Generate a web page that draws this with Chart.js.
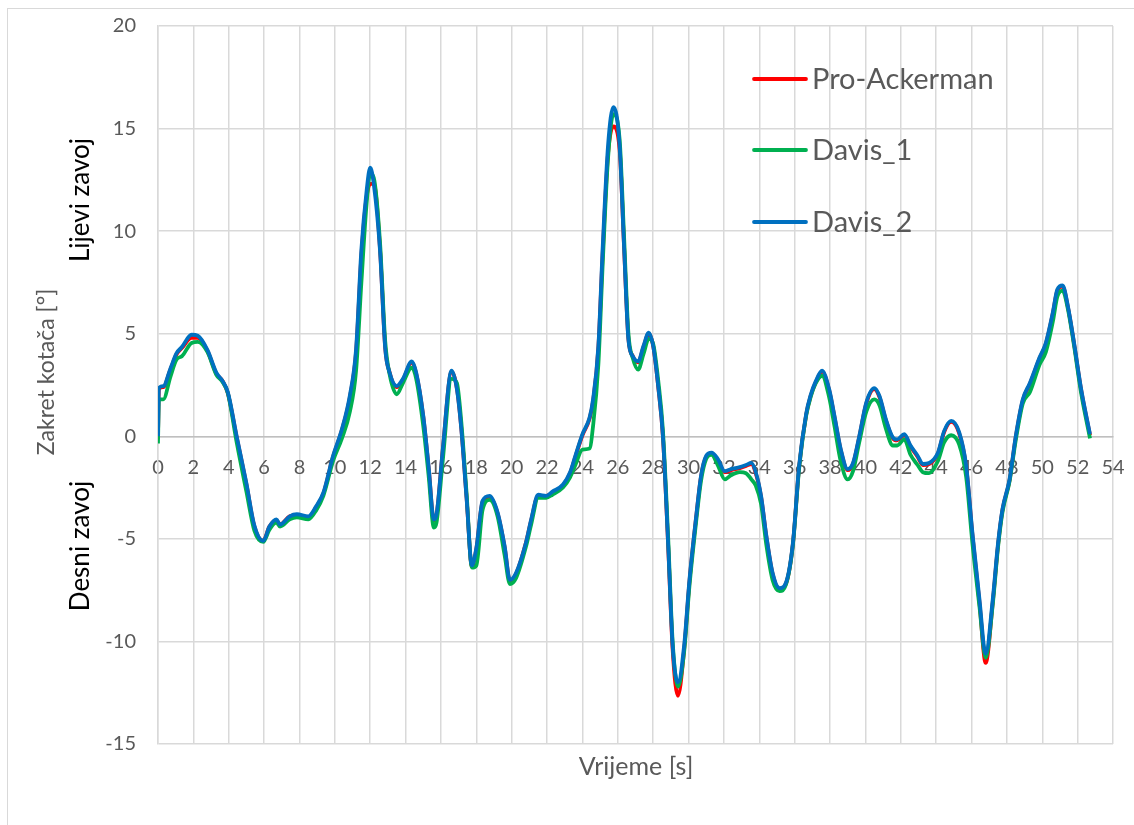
<!DOCTYPE html>
<html>
<head>
<meta charset="utf-8">
<script src="https://cdn.jsdelivr.net/npm/chart.js@4.4.0/dist/chart.umd.min.js"></script>
<style>
  html, body { margin: 0; padding: 0; background: #fff; }
  #wrap { width: 1134px; height: 825px; position: relative; }
</style>
</head>
<body>
<div id="wrap"><canvas id="chart" width="1134" height="825"></canvas></div>
<script>
// time [s]
const vrijeme = [0, 0.05, 0.3, 0.7, 1.05, 1.35, 1.9, 2.25, 2.8, 3.3, 3.65, 3.95, 4.45, 5.0, 5.45, 5.95, 6.3, 6.7, 6.9, 7.45, 7.85, 8.5, 8.95, 9.35, 9.9, 10.4, 10.85, 11.2, 11.5, 11.8, 12.0, 12.2, 12.55, 12.85, 13.1, 13.5, 13.85, 14.35, 14.6, 15.0, 15.3, 15.6, 15.75, 16.1, 16.6, 16.9, 17.15, 17.45, 17.75, 18.0, 18.35, 18.75, 19.2, 19.6, 19.9, 20.25, 20.8, 21.1, 21.5, 21.95, 22.3, 22.9, 23.3, 23.6, 24.0, 24.4, 24.6, 24.9, 25.15, 25.45, 25.75, 26.1, 26.35, 26.6, 26.85, 27.15, 27.45, 27.75, 28.0, 28.3, 28.55, 28.85, 29.1, 29.4, 29.75, 30.05, 30.45, 30.7, 31.0, 31.3, 31.65, 32.05, 32.4, 32.9, 33.25, 33.55, 33.8, 34.1, 34.4, 34.75, 35.15, 35.5, 35.9, 36.25, 36.65, 36.9, 37.2, 37.55, 37.95, 38.25, 38.6, 39.0, 39.3, 39.65, 40.05, 40.5, 40.8, 41.15, 41.55, 41.8, 42.2, 42.55, 42.95, 43.25, 43.6, 44.1, 44.45, 44.85, 45.3, 45.7, 46.05, 46.45, 46.8, 47.2, 47.5, 47.75, 48.15, 48.5, 48.9, 49.3, 49.85, 50.2, 50.6, 50.85, 51.15, 51.45, 51.8, 52.2, 52.7];

const proAckerman = [0, 2.3, 2.4, 3.25, 4.0, 4.3, 4.8, 4.8, 4.15, 3.05, 2.7, 2.1, -0.05, -2.35, -4.4, -5.1, -4.4, -4.1, -4.3, -3.9, -3.85, -3.95, -3.45, -2.8, -1.0, 0.3, 1.9, 4.1, 8.8, 11.7, 12.3, 12.3, 9.2, 4.3, 3.1, 2.4, 2.75, 3.6, 3.05, 0.95, -1.5, -4.1, -3.85, -0.7, 3.15, 2.35, 0.4, -3.0, -6.35, -5.5, -3.2, -2.95, -3.75, -5.4, -7.05, -6.7, -5.2, -4.1, -2.9, -2.9, -2.75, -2.4, -1.8, -1.0, 0.05, 0.85, 1.7, 4.3, 9.0, 13.8, 15.1, 14.0, 9.3, 4.75, 3.9, 3.6, 4.35, 5.0, 4.4, 2.3, 0, -5.4, -10.4, -12.65, -10.4, -7.1, -3.8, -2.0, -1.0, -0.85, -1.15, -1.75, -1.65, -1.55, -1.45, -1.35, -1.8, -2.95, -4.9, -6.7, -7.45, -7.2, -5.25, -1.5, 1.05, 1.95, 2.65, 3.15, 2.25, 0.95, -0.65, -1.65, -1.35, -0.05, 1.6, 2.3, 1.9, 0.8, -0.1, -0.2, 0.05, -0.5, -1.0, -1.4, -1.35, -0.85, 0.2, 0.7, 0.15, -1.5, -4.8, -8.1, -11.05, -8.1, -5.3, -3.6, -2.15, -0.05, 1.75, 2.55, 3.8, 4.5, 6.0, 7.1, 7.3, 6.3, 4.5, 2.25, 0.05];

const davis1 = [-0.35, 1.8, 1.8, 2.9, 3.75, 3.9, 4.55, 4.6, 4.1, 3.0, 2.65, 2.1, -0.3, -2.7, -4.6, -5.15, -4.55, -4.2, -4.4, -4.05, -3.95, -4.05, -3.6, -2.9, -1.2, -0.1, 1.2, 3.2, 7.5, 11.4, 12.8, 12.6, 9.5, 4.6, 3.0, 2.05, 2.6, 3.35, 2.8, 0.5, -1.9, -4.45, -4.2, -1.2, 2.8, 2.6, 0.7, -2.8, -6.4, -6.3, -3.6, -3.1, -3.9, -5.8, -7.2, -6.9, -5.4, -4.3, -3.0, -3.0, -2.85, -2.5, -2.0, -1.4, -0.65, -0.6, 0.5, 3.5, 8.5, 13.6, 15.7, 14.5, 9.8, 5.0, 3.8, 3.25, 4.0, 4.75, 4.5, 2.6, 0.3, -5.0, -10.0, -12.2, -10.5, -7.3, -4.0, -2.2, -1.1, -0.9, -1.4, -2.1, -1.9, -1.75, -1.8, -2.1, -2.4, -3.3, -5.3, -7.0, -7.55, -7.25, -5.3, -1.6, 1.0, 1.9, 2.6, 2.95, 1.9, 0.5, -1.2, -2.1, -1.7, -0.3, 1.2, 1.8, 1.5, 0.4, -0.45, -0.45, -0.15, -0.9, -1.4, -1.75, -1.8, -1.2, -0.3, 0.05, -0.4, -2.0, -5.2, -8.3, -10.8, -8.2, -5.4, -3.7, -2.2, -0.2, 1.6, 2.15, 3.5, 4.1, 5.6, 6.8, 7.1, 6.2, 4.4, 2.1, -0.1];

const davis2 = [0, 2.35, 2.45, 3.3, 4.05, 4.35, 4.95, 4.9, 4.2, 3.1, 2.7, 2.15, 0, -2.3, -4.35, -5.1, -4.4, -4.05, -4.3, -3.9, -3.8, -3.9, -3.4, -2.75, -0.95, 0.35, 2.0, 4.25, 9.1, 12.0, 13.1, 12.3, 9.1, 4.25, 3.1, 2.45, 2.8, 3.65, 3.1, 1.0, -1.45, -4.05, -3.8, -0.65, 3.2, 2.3, 0.35, -3.05, -6.3, -5.45, -3.15, -2.9, -3.7, -5.35, -7.0, -6.65, -5.2, -4.05, -2.85, -2.9, -2.7, -2.35, -1.75, -0.95, 0.1, 0.9, 1.8, 4.4, 9.3, 14.2, 16.05, 14.2, 9.3, 4.7, 3.9, 3.65, 4.4, 5.05, 4.4, 2.3, 0, -5.35, -10.2, -12.0, -10.2, -7.0, -3.75, -1.95, -0.95, -0.8, -1.1, -1.7, -1.6, -1.5, -1.4, -1.3, -1.75, -2.9, -4.85, -6.65, -7.4, -7.15, -5.2, -1.45, 1.1, 2.0, 2.7, 3.2, 2.3, 1.0, -0.6, -1.6, -1.3, 0, 1.65, 2.35, 1.95, 0.85, -0.05, -0.15, 0.1, -0.45, -0.95, -1.35, -1.3, -0.8, 0.25, 0.75, 0.2, -1.45, -4.7, -7.95, -10.6, -7.95, -5.2, -3.55, -2.1, 0, 1.8, 2.6, 3.85, 4.55, 6.05, 7.15, 7.35, 6.35, 4.55, 2.3, 0.1];

const seriesNames = ['Pro-Ackerman', 'Davis_1', 'Davis_2'];
const seriesColors = ['#ff0000', '#00b050', '#0070c0'];
const yTicks = [-15, -10, -5, 0, 5, 10, 15, 20];

const txtGray = '#595959';
const fontFam = 'Lato, "Open Sans", sans-serif';

function pts(vals) {
    return vrijeme.map((t, i) => ({ x: t, y: vals[i] }));
}

// no extra room around the plot for labels, the layout padding decides it
function noPad(scale) {
    scale.paddingLeft = 0;
    scale.paddingRight = 0;
    scale.paddingTop = 0;
    scale.paddingBottom = 0;
}

// titles, side notes, legend
const extras = {
    id: 'extras',
    beforeDraw(chart) {
        const c = chart.ctx;
        c.save();
        c.fillStyle = '#fff';
        c.fillRect(0, 0, chart.width, chart.height);
        c.strokeStyle = '#d9d9d9';
        c.lineWidth = 1;
        c.strokeRect(7.5, 8.5, 1200, 900);
        c.restore();
    },
    afterDraw(chart) {
        const c = chart.ctx;
        c.save();
        c.fillStyle = txtGray;
        c.textAlign = 'center';
        c.textBaseline = 'middle';
        c.font = '25px ' + fontFam;
        c.fillText('Vrijeme [s]', 636, 767);

        c.save();
        c.translate(47, 372);
        c.rotate(-Math.PI / 2);
        c.font = '23px ' + fontFam;
        c.fillText('Zakret kotača [°]', 0, 0);
        c.restore();

        c.fillStyle = '#000';
        c.font = '26px ' + fontFam;
        c.save();
        c.translate(81, 200);
        c.rotate(-Math.PI / 2);
        c.fillText('Lijevi zavoj', 0, 0);
        c.restore();
        c.save();
        c.translate(81, 546);
        c.rotate(-Math.PI / 2);
        c.fillText('Desni zavoj', 0, 0);
        c.restore();

        // legend
        const ly = [79, 150, 222];
        c.font = '29px ' + fontFam;
        c.textAlign = 'left';
        seriesNames.forEach((name, i) => {
            c.strokeStyle = seriesColors[i];
            c.lineWidth = 3.8;
            c.lineCap = 'round';
            c.beginPath();
            c.moveTo(754, ly[i]);
            c.lineTo(806, ly[i]);
            c.stroke();
            c.fillStyle = txtGray;
            c.fillText(name, 812, ly[i] + 1);
        });
        c.restore();
    }
};

const datasets = [proAckerman, davis1, davis2].map((vals, i) => ({
    label: seriesNames[i],
    data: pts(vals),
    borderColor: seriesColors[i],
    backgroundColor: seriesColors[i],
    borderWidth: 3.8,
    pointRadius: 0,
    cubicInterpolationMode: 'monotone',
    fill: false,
    order: 3 - i
}));

new Chart(document.getElementById('chart'), {
    type: 'line',
    data: { datasets: datasets },
    options: {
        responsive: false,
        animation: false,
        events: [],
        layout: { padding: { left: 8, right: 21, top: 26, bottom: 81 } },
        plugins: {
            legend: { display: false },
            tooltip: { enabled: false }
        },
        scales: {
            x: {
                type: 'linear',
                position: { y: 0 },
                min: 0,
                max: 54,
                afterFit: noPad,
                ticks: {
                    stepSize: 2,
                    padding: 19,
                    color: txtGray,
                    font: { family: fontFam, size: 20 },
                    maxRotation: 0,
                    autoSkip: false
                },
                grid: { color: '#d9d9d9', lineWidth: 1.5, drawTicks: false },
                border: { color: '#bfbfbf', width: 1.5 }
            },
            y: {
                min: -15,
                max: 20,
                afterBuildTicks(scale) {
                    scale.ticks = yTicks.map(v => ({ value: v }));
                },
                afterFit(scale) {
                    scale.width = 150;
                    noPad(scale);
                },
                ticks: {
                    padding: 22,
                    color: txtGray,
                    font: { family: fontFam, size: 20 }
                },
                grid: { color: '#d9d9d9', lineWidth: 1.5, drawTicks: false },
                border: { color: '#d9d9d9', width: 1.5 }
            }
        }
    },
    plugins: [extras]
});
</script>
</body>
</html>
